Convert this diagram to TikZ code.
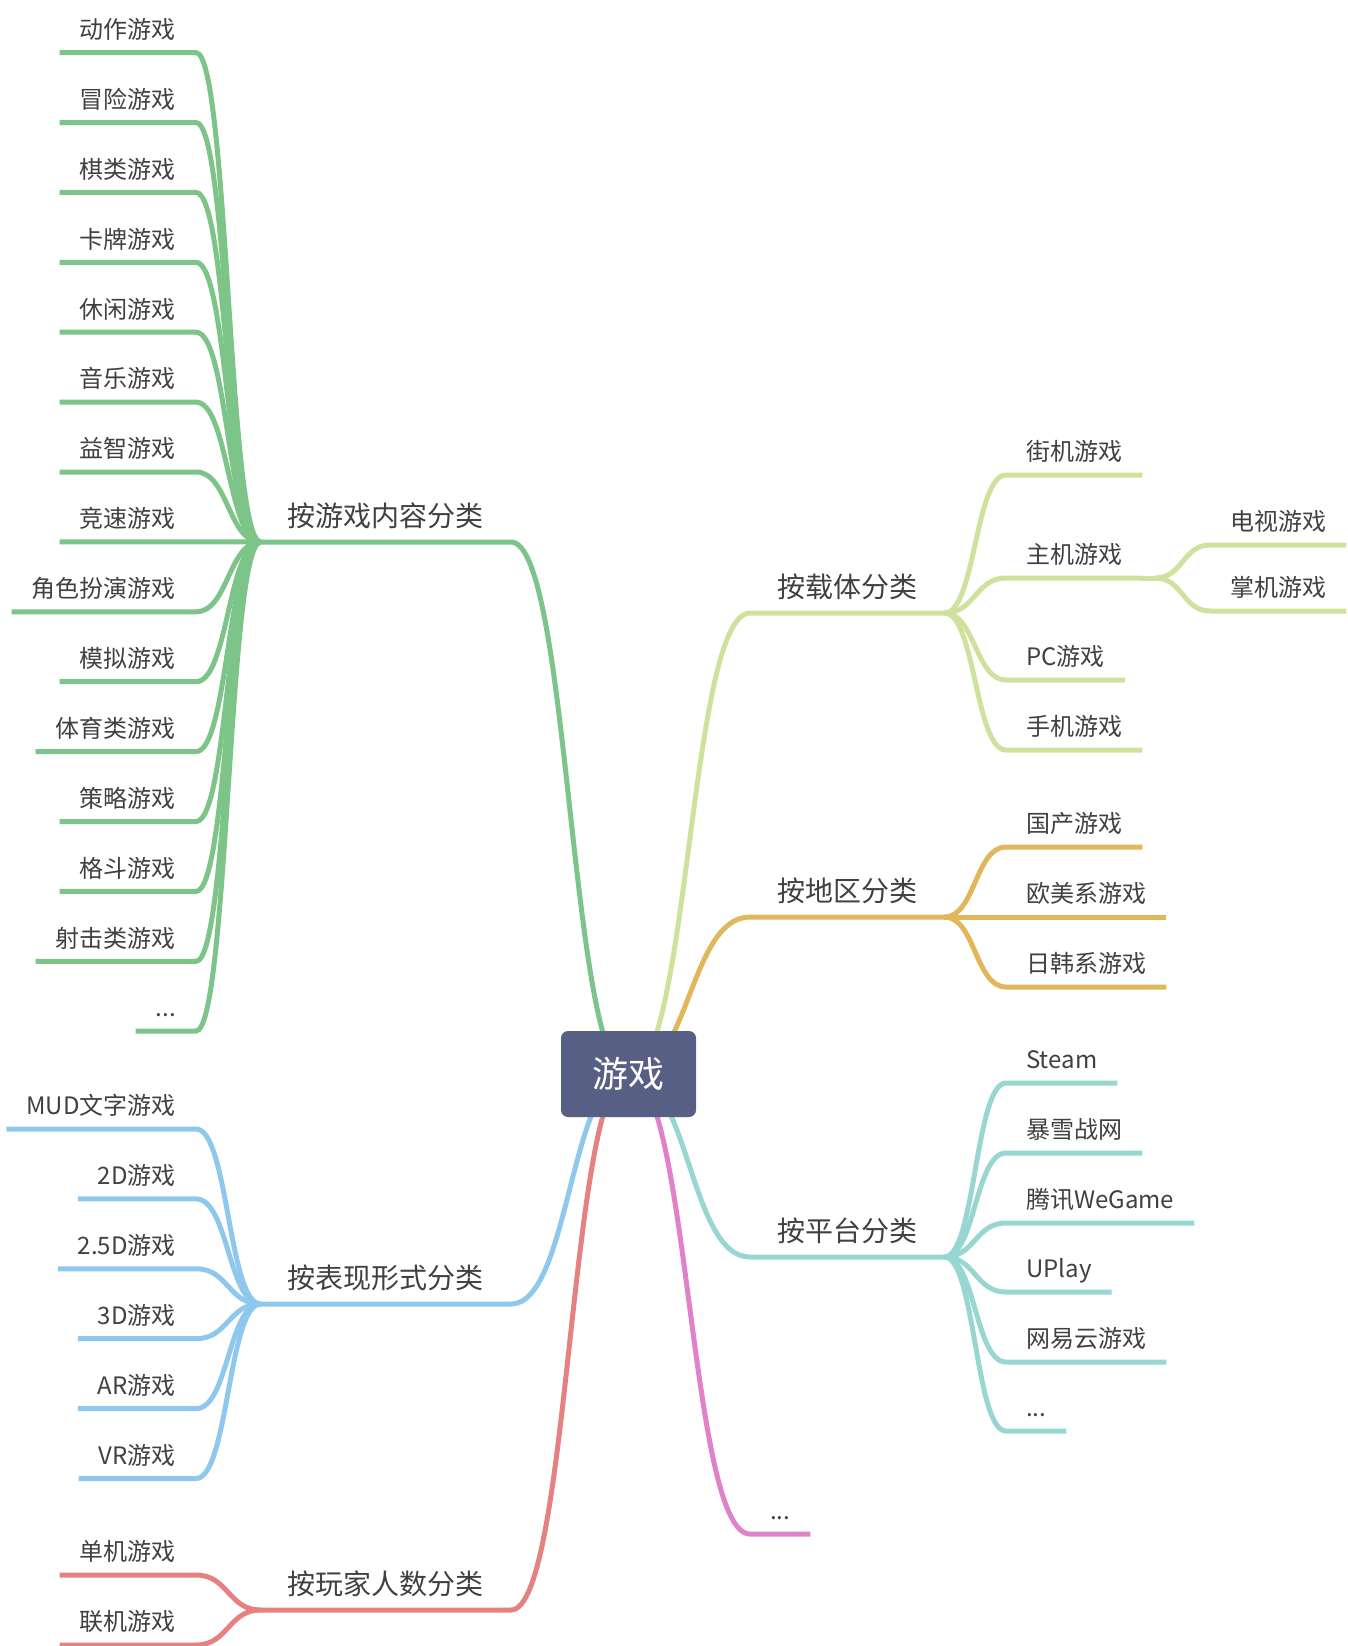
\documentclass[tikz,border=0pt]{standalone}
\usepackage{fontspec}
\setmainfont{Noto Sans CJK SC}
\usetikzlibrary{positioning,calc,backgrounds}

\definecolor{rootC}{HTML}{585F84}
\definecolor{textC}{HTML}{404040}
\definecolor{greenC}{HTML}{7CC487}
\definecolor{blueC}{HTML}{8EC9ED}
\definecolor{redC}{HTML}{E5827F}
\definecolor{limeC}{HTML}{CFE29D}
\definecolor{orangeC}{HTML}{E1B75C}
\definecolor{tealC}{HTML}{98D6D2}
\definecolor{pinkC}{HTML}{DF82C9}

\tikzset{
  root/.style={fill=rootC, rounded corners=7pt, minimum width=135pt, minimum height=86pt,
    inner sep=0pt, text=white, font=\fontsize{36}{40}\selectfont},
  cat/.style={text=textC, font=\fontsize{28}{32}\selectfont, inner xsep=27pt, inner ysep=15pt, text depth=0pt},
  leaf/.style={text=textC, font=\fontsize{24}{28}\selectfont, inner xsep=20pt, inner ysep=14pt, text depth=0pt},
  branch/.style={line width=5pt},
  curvy/.style={to path={let \p1=(\tikztostart), \p2=(\tikztotarget) in
    .. controls ({(\x1+\x2)/2},\y1) and ({(\x1+\x2)/2},\y2) .. (\tikztotarget) \tikztonodes}}
}

\begin{document}
\begin{tikzpicture}[x=1pt,y=-1pt]
  \useasboundingbox (0,0) rectangle (1348,1646);

  % Root
  \node[root] (root) at (628.5,1074) {游戏};

  % Main categories
  \node[cat, anchor=south east] (content) at (511,542) {按游戏内容分类};
  \node[cat, anchor=south east] (form) at (511,1304) {按表现形式分类};
  \node[cat, anchor=south east] (players) at (511,1610) {按玩家人数分类};
  \node[cat, anchor=south west] (carrier) at (750,613) {按载体分类};
  \node[cat, anchor=south west] (region) at (750,917) {按地区分类};
  \node[cat, anchor=south west] (platform) at (750,1257) {按平台分类};
  \node[leaf, anchor=south west] (more) at (750,1534) {...};

  % Root connectors, behind the root box
  \begin{scope}[on background layer]
    \draw[branch,greenC] (root.center) to[curvy] (content.south east) -- (content.south west);
    \draw[branch,blueC] (root.center) to[curvy] (form.south east) -- (form.south west);
    \draw[branch,redC] (root.center) to[curvy] (players.south east) -- (players.south west);
    \draw[branch,limeC] (root.center) to[curvy] (carrier.south west) -- (carrier.south east);
    \draw[branch,orangeC] (root.center) to[curvy] (region.south west) -- (region.south east);
    \draw[branch,tealC] (root.center) to[curvy] (platform.south west) -- (platform.south east);
    \draw[branch,pinkC] (root.center) to[curvy] (more.south west) -- (more.south east);
  \end{scope}

  % By content
  \foreach \txt [count=\k from 0] in {动作游戏,冒险游戏,棋类游戏,卡牌游戏,休闲游戏,音乐游戏,益智游戏,
      竞速游戏,角色扮演游戏,模拟游戏,体育类游戏,策略游戏,格斗游戏,射击类游戏}{
    \node[leaf, anchor=south east] (g\k) at (196,{52.6+69.9*\k}) {\txt};
    \draw[branch,greenC] (content.south west) to[curvy] (g\k.south east) -- (g\k.south west);
  }
  \node[leaf, anchor=south east] (g14) at (196,1031) {...};
  \draw[branch,greenC] (content.south west) to[curvy] (g14.south east) -- (g14.south west);

  % By form
  \foreach \txt [count=\k from 0] in {MUD文字游戏,2D游戏,2.5D游戏,3D游戏,AR游戏,VR游戏}{
    \node[leaf, anchor=south east] (b\k) at (196,{1129+69.9*\k}) {\txt};
    \draw[branch,blueC] (form.south west) to[curvy] (b\k.south east) -- (b\k.south west);
  }

  % By players
  \foreach \txt [count=\k from 0] in {单机游戏,联机游戏}{
    \node[leaf, anchor=south east] (p\k) at (196,{1575+70*\k}) {\txt};
    \draw[branch,redC] (players.south west) to[curvy] (p\k.south east) -- (p\k.south west);
  }

  % By carrier
  \foreach \name/\txt/\y in {jj/街机游戏/475, zj/主机游戏/578, pc/PC游戏/680, sj/手机游戏/750}{
    \node[leaf, anchor=south west] (\name) at (1006,\y) {\txt};
    \draw[branch,limeC] (carrier.south east) to[curvy] (\name.south west) -- (\name.south east);
  }
  \coordinate (zjend) at ([xshift=13pt]zj.south east);
  \draw[branch,limeC] (zj.south east) -- (zjend);
  \foreach \name/\txt/\y in {ds/电视游戏/545, zh/掌机游戏/611}{
    \node[leaf, anchor=south west] (\name) at (1210,\y) {\txt};
    \draw[branch,limeC] (zjend) to[curvy] (\name.south west) -- (\name.south east);
  }

  % By region
  \foreach \name/\txt/\y in {gc/国产游戏/847, om/欧美系游戏/917, rh/日韩系游戏/987}{
    \node[leaf, anchor=south west] (\name) at (1006,\y) {\txt};
    \draw[branch,orangeC] (region.south east) to[curvy] (\name.south west) -- (\name.south east);
  }

  % By platform
  \foreach \name/\txt/\y in {st/Steam/1083, bx/暴雪战网/1153, tx/腾讯WeGame/1223, up/UPlay/1292, wy/网易云游戏/1362}{
    \node[leaf, anchor=south west] (\name) at (1006,\y) {\txt};
    \draw[branch,tealC] (platform.south east) to[curvy] (\name.south west) -- (\name.south east);
  }
  \node[leaf, anchor=south west] (pm) at (1006,1431) {...};
  \draw[branch,tealC] (platform.south east) to[curvy] (pm.south west) -- (pm.south east);
\end{tikzpicture}
\end{document}
